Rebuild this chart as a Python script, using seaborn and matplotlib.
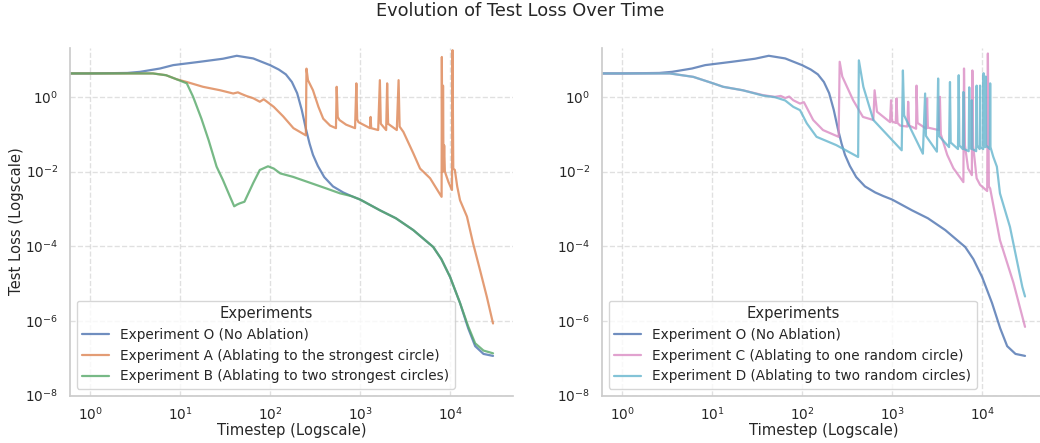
import matplotlib
matplotlib.use("Agg")
import matplotlib.pyplot as plt
import seaborn as sns
import pandas as pd

# ---------------- data ----------------
names = {
    "O": "Experiment O (No Ablation)",
    "A": "Experiment A (Ablating to the strongest circle)",
    "B": "Experiment B (Ablating to two strongest circles)",
    "C": "Experiment C (Ablating to one random circle)",
    "D": "Experiment D (Ablating to two random circles)",
}

t_O = [0, 1, 2.6, 3.6, 6, 8.4, 16.7, 30, 42.7, 65, 100, 125, 150, 175, 200, 225, 250, 275, 300, 340,
       400, 500, 650, 800, 1000, 1670, 2500, 3900, 6500, 8000, 10000, 12900, 15900, 19000, 23500, 30000]
loss_O = [4.24, 4.24, 4.37, 4.68, 5.75, 7.08, 8.71, 10.5, 12.6, 10.7, 7.08, 5.4, 4.0, 2.5, 1.26, 0.45, 0.141,
          0.056, 0.028, 0.0141, 0.0071, 0.0040, 0.00275, 0.0022, 0.00178, 9.1e-4, 5.6e-4, 2.7e-4, 9.5e-5,
          4.5e-5, 1.5e-5, 3.0e-6, 6.3e-7, 2.1e-7, 1.3e-7, 1.15e-7]

t_A = [0, 1, 5, 7, 9.2, 11.9, 18, 28, 39, 44, 48, 55, 65, 77, 85, 90, 110, 140, 182, 250,
       254, 264, 300, 345, 390, 465, 540,
       550, 565, 590, 700, 880,
       910, 930, 960, 1290,
       1310, 1330, 1590,
       1660, 1700, 1950,
       2000, 2050, 2560,
       2680, 2750, 3030, 3900, 4640, 6000, 8050,
       8100, 8200, 8300, 8350, 8450, 8600, 8750, 9600, 10500,
       10650, 10850, 11300, 12000, 12900, 15400, 18000, 21500, 25600, 30000]
loss_A = [4.24, 4.24, 4.24, 3.8, 2.95, 2.5, 1.86, 1.5, 1.23, 1.32, 1.2, 1.05, 0.92, 0.74, 0.86, 0.78, 0.54, 0.30, 0.145, 0.093,
          5.7, 2.8, 1.5, 0.54, 0.26, 0.17, 0.145,
          1.86, 0.29, 0.24, 0.18, 0.145,
          2.3, 0.25, 0.21, 0.145,
          0.29, 0.145, 0.129,
          2.8, 0.19, 0.129,
          2.3, 0.19, 0.129,
          2.8, 0.16, 0.115, 0.031, 0.012, 0.0066, 0.0021,
          11.7, 0.01, 0.012, 2.0, 0.01, 0.05, 0.01, 0.0052, 0.0032,
          17.8, 0.012, 0.011, 0.004, 0.0017, 6.2e-4, 1.2e-4, 2.3e-5, 4.4e-6, 8.5e-7]

t_B = [0, 1, 5, 7, 9.2, 11.9, 14, 17.3, 20.8, 25.5, 30, 36, 40, 43, 46, 52, 65, 77, 95, 110, 130, 180,
       425, 600, 800, 1000, 1670, 2500, 3900, 6500, 8000, 10000, 12900, 15900, 19000, 23500, 30000]
loss_B = [4.24, 4.24, 4.24, 3.8, 2.95, 2.3, 1.0, 0.26, 0.069, 0.0135, 0.0059, 0.0021, 1.17e-3, 1.3e-3, 1.4e-3,
          1.55e-3, 4.9e-3, 0.011, 0.0138, 0.012, 0.0089, 0.0072,
          0.0035, 0.0026, 0.0022, 0.00178, 9.1e-4, 5.6e-4, 2.7e-4, 9.5e-5, 4.5e-5, 1.5e-5, 3.0e-6,
          7.1e-7, 2.5e-7, 1.6e-7, 1.35e-7]

t_C = [0, 1, 3.4, 6.2, 10.3, 13.3, 22, 37, 50, 58, 65, 72, 80, 95, 105, 133, 171, 255,
       262, 280, 370, 475, 620,
       640, 680, 950,
       975, 1000, 1100,
       1120, 1150, 1230, 1480,
       1510, 1550, 1850,
       1870, 1920, 2400,
       2450, 2500, 3300,
       3400, 3480, 4100, 4800, 6200,
       6300, 6450, 7000, 7700,
       7800, 7950, 8700, 9500, 11400,
       11600, 11900, 12300, 15800, 22300, 30000]
loss_C = [4.24, 4.24, 4.24, 3.43, 2.3, 1.86, 1.5, 1.11, 1.0, 1.06, 0.93, 1.02, 0.81, 0.66, 0.72, 0.24, 0.129, 0.085,
          8.7, 3.5, 0.81, 0.29, 0.24,
          1.5, 0.4, 0.21,
          0.81, 0.22, 0.2,
          0.91, 0.2, 0.17, 0.16,
          0.74, 0.17, 0.14,
          2.0, 0.2, 0.14,
          0.91, 0.15, 0.129,
          1.0, 0.1, 0.028, 0.0123, 0.0052,
          5.75, 0.05, 0.012, 0.008,
          5.1, 0.05, 0.0066, 0.0044, 0.003,
          14.5, 0.004, 0.0035, 1.45e-4, 1.05e-5, 6.9e-7]

t_D = [0, 1, 3.4, 6.2, 10.3, 13.3, 22, 37, 50, 65, 80, 95, 113, 145, 240, 420,
       428, 480, 620, 1280,
       1320, 1360, 2200,
       2330, 2380, 3150,
       3250, 3320, 4300,
       4400, 4480, 5400,
       5500, 5600, 6100,
       6200, 6300, 7100,
       7200, 7300, 7600,
       7700, 7800, 8600,
       8700, 8800, 9400,
       9500, 9600, 10300,
       10400, 10500, 10900,
       11000, 11100, 12200,
       12300, 12400, 13300, 14600, 15800, 20400, 28000, 30000]
loss_D = [4.24, 4.24, 4.24, 3.43, 2.3, 1.86, 1.5, 1.08, 0.98, 0.8, 0.54, 0.44, 0.195, 0.085, 0.051, 0.0245,
          9.5, 1.86, 0.24, 0.037,
          5.1, 0.32, 0.03,
          1.23, 0.09, 0.034,
          3.1, 0.09, 0.045,
          2.5, 0.06, 0.04,
          3.8, 0.05, 0.04,
          1.35, 0.04, 0.035,
          1.8, 0.045, 0.04,
          0.81, 0.04, 0.035,
          2.0, 0.05, 0.04,
          2.0, 0.045, 0.04,
          4.3, 0.05, 0.045,
          3.5, 0.05, 0.04,
          2.3, 0.045, 0.025, 0.0135, 0.0026, 3.3e-4, 8.1e-6, 4.5e-6]

x_ticks = [1e0, 1e1, 1e2, 1e3, 1e4]
y_ticks = [1e-8, 1e-6, 1e-4, 1e-2, 1e0]

colors = {
    names["O"]: "#4C72B0",
    names["A"]: "#DD8452",
    names["B"]: "#55A868",
    names["C"]: "#DA8BC3",
    names["D"]: "#64B5CD",
}


def frame(key, t, loss):
    return pd.DataFrame({"Timestep": t, "Loss": loss, "Experiment": names[key]})


df_left = pd.concat([frame("O", t_O, loss_O), frame("A", t_A, loss_A), frame("B", t_B, loss_B)],
                    ignore_index=True)
df_right = pd.concat([frame("O", t_O, loss_O), frame("C", t_C, loss_C), frame("D", t_D, loss_D)],
                     ignore_index=True)

# ---------------- figure ----------------
sns.set_theme(style="whitegrid", context="notebook", font_scale=0.888)

fig = plt.figure(figsize=(10.4, 4.43), dpi=100)
ax1 = fig.add_axes([70 / 1040, 47.5 / 443, 443 / 1040, 348 / 443])
ax2 = fig.add_axes([602 / 1040, 47.5 / 443, 443 / 1040, 348 / 443])

for ax, df, keys in [(ax1, df_left, ["O", "A", "B"]), (ax2, df_right, ["O", "C", "D"])]:
    order = [names[k] for k in keys]
    sns.lineplot(data=df, x="Timestep", y="Loss", hue="Experiment", hue_order=order,
                 palette=colors, alpha=0.8, linewidth=1.6, estimator=None, sort=False,
                 errorbar=None, ax=ax)
    ax.set_xscale("log")
    ax.set_yscale("log")
    ax.set_xlim(0.6, 5.0e4)
    ax.set_ylim(1e-8, 21)
    ax.set_xticks(x_ticks)
    ax.set_yticks(y_ticks)
    ax.minorticks_off()
    ax.tick_params(axis="x", pad=1.5)
    ax.tick_params(axis="y", pad=2.5)
    ax.grid(True, which="major", linestyle="--", alpha=0.6)
    ax.set_xlabel("Timestep (Logscale)", labelpad=0.5)
    sns.move_legend(ax, "lower left", title="Experiments")
    sns.despine(ax=ax)

ax1.set_ylabel("Test Loss (Logscale)", labelpad=1)
ax2.set_ylabel("")

fig.suptitle("Evolution of Test Loss Over Time", y=1 - 11 / 443, va="center")

fig.savefig("out.png", dpi=100)
